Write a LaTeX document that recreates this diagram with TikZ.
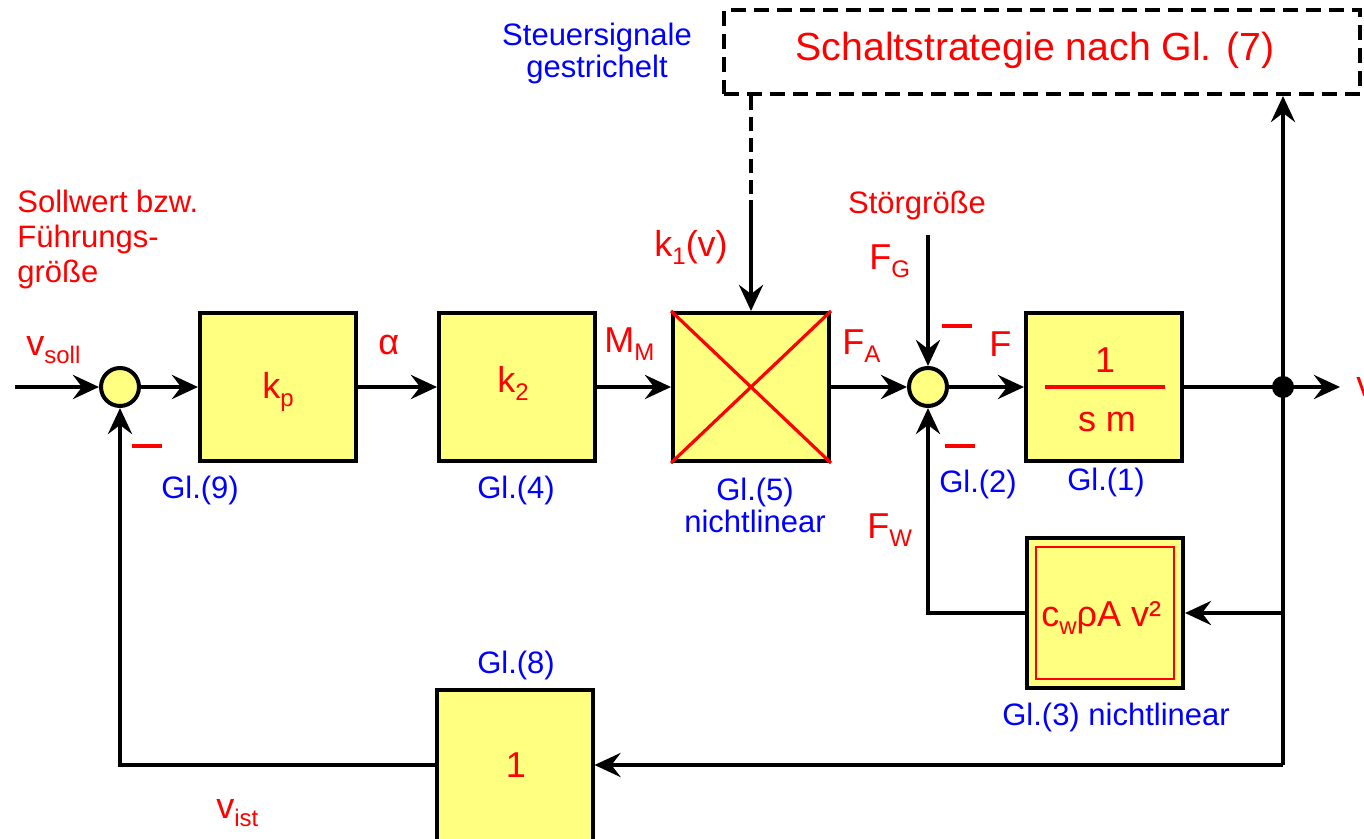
\documentclass[tikz,border=0pt]{standalone}
\usepackage{fontspec}
\setmainfont{Liberation Sans}
\usetikzlibrary{arrows.meta,calc}
\definecolor{fillY}{HTML}{FFFF80}
\newcommand\fsz[1]{\fontsize{#1}{#1}\selectfont}
\newcommand\lsub[1]{\raisebox{-4pt}{\fontsize{12}{12}\selectfont #1}}
\begin{document}
\begin{tikzpicture}[x=0.5pt,y=-0.5pt,
  blk/.style={draw=black, line width=2pt, fill=fillY, minimum width=78pt, minimum height=74pt, inner sep=0pt},
  sumpt/.style={circle, draw=black, line width=2pt, fill=fillY, minimum size=19pt, inner sep=0pt},
  sig/.style={line width=2.2pt, -{Stealth[length=13pt, width=12pt, inset=4.5pt]}},
  ln/.style={line width=2.2pt},
  lbl/.style={text=red, font=\fsz{18}, inner sep=0pt},
  note/.style={text=blue, font=\fontsize{15.5}{16}\selectfont, inner sep=0pt, align=center},
  minusbar/.style={red, line width=2.2pt},
]
\useasboundingbox (0,0) rectangle (1364,839);

% blocks and summing points
\node[sumpt] (s1) at (120,387) {};
\node[blk] (kp) at (278,387) {};
\node[blk] (k2) at (517,387) {};
\node[blk] (nl) at (751,387) {};
\draw[red, line width=1.6pt] (nl.north west) -- (nl.south east) (nl.north east) -- (nl.south west);
\node[sumpt] (s2) at (928,387) {};
\node[blk] (g1) at (1104,387) {};
\draw[red, line width=1.6pt] ($(g1.center)+(-59,0)$) -- ($(g1.center)+(61,0)$);
\node[blk, minimum height=75pt] (cw) at (1105,613) {};
\node[draw=red, line width=1.3pt, minimum width=69pt, minimum height=66pt, inner sep=0pt] (cwin) at (cw.center) {};
\node[blk, minimum height=82pt] (one) at (514.5,772) {};
\node[draw=black, dashed, dash pattern=on 7.5pt off 4pt, line width=2pt, minimum width=318pt, minimum height=42pt, inner sep=0pt] (ss) at (1042,52) {};

% block texts
\node[lbl, anchor=base west] at (262,399) {k\lsub{p}};
\node[lbl, anchor=base west] at (497,393) {k\lsub{2}};
\node[lbl, anchor=base] at (1105,372) {1};
\node[lbl, anchor=base] at (1107,431) {s m};
\node[lbl, anchor=base west] at (1041,626) {c\lsub{w}ρA v²};
\node[lbl, anchor=base] at (516,777) {1};
\node[text=red, font=\fsz{19.6}, inner sep=0pt] at (1035,50) {Schaltstrategie nach Gl. (7)};

% connectors
\coordinate (in) at (15,387);
\coordinate (vout) at (1340,387);
\coordinate (j) at (1283,387);
\coordinate (br) at (1283,765);
\coordinate (fg) at (928,235);
\coordinate (dk) at (751,200);
\draw[sig] (in) -- (s1);
\draw[sig] (s1) -- (kp);
\draw[sig] (kp) -- (k2);
\draw[sig] (k2) -- (nl);
\draw[sig] (nl) -- (s2);
\draw[sig] (s2) -- (g1);
\draw[sig] (g1) -- (vout);
\draw[sig] (fg) -- (s2);
\draw[ln] (j) -- (br);
\draw[sig] (j) -- (j |- ss.south);
\draw[sig] (j |- cw) -- (cw.east);
\draw[sig] (br) -- (one.east |- br);
\draw[sig] (cw.west) -| (s2.south);
\draw[sig] (one.west |- br) -| (s1.south);
\draw[ln, dash pattern=on 7pt off 3.5pt] (ss.south -| nl) -- (dk);
\draw[sig] (dk) -- (nl.north);
\fill (j) circle[radius=5.5pt];

% minus signs
\draw[minusbar] (132,446) -- (162,446);
\draw[minusbar] (942,326) -- (972,326);
\draw[minusbar] (945,446) -- (975,446);

% signal labels
\node[lbl, anchor=base west] at (26,356) {v\lsub{soll}};
\node[lbl, anchor=base west] at (378,355) {α};
\node[lbl, anchor=base west] at (604,353) {M\lsub{M}};
\node[lbl, anchor=base west] at (654,257) {k\lsub{1}(v)};
\node[lbl, anchor=base west] at (842,355) {F\lsub{A}};
\node[lbl, anchor=base west] at (989,357) {F};
\node[lbl, anchor=base west] at (869,270) {F\lsub{G}};
\node[lbl, anchor=base west] at (867,538) {F\lsub{W}};
\node[lbl, anchor=base west] at (216,818) {v\lsub{ist}};
\node[lbl, anchor=base west] at (1356,396) {v};

% red descriptive texts
\node[text=red, font=\fontsize{15.5}{17.5}\selectfont, inner sep=0pt, align=left, anchor=north west] at (17,190) {Sollwert bzw.\\Führungs-\\größe};
\node[text=red, font=\fsz{15.5}, inner sep=0pt] at (917,205) {Störgröße};

% blue notes
\node[note, anchor=north] at (597,23) {Steuersignale\\gestrichelt};
\node[note] at (200,490) {Gl.(9)};
\node[note] at (516,490) {Gl.(4)};
\node[note] at (755,505) {Gl.(5)\\nichtlinear};
\node[note] at (978,484) {Gl.(2)};
\node[note] at (1106,482) {Gl.(1)};
\node[note] at (1116,717) {Gl.(3) nichtlinear};
\node[note] at (516,665) {Gl.(8)};
\end{tikzpicture}
\end{document}
